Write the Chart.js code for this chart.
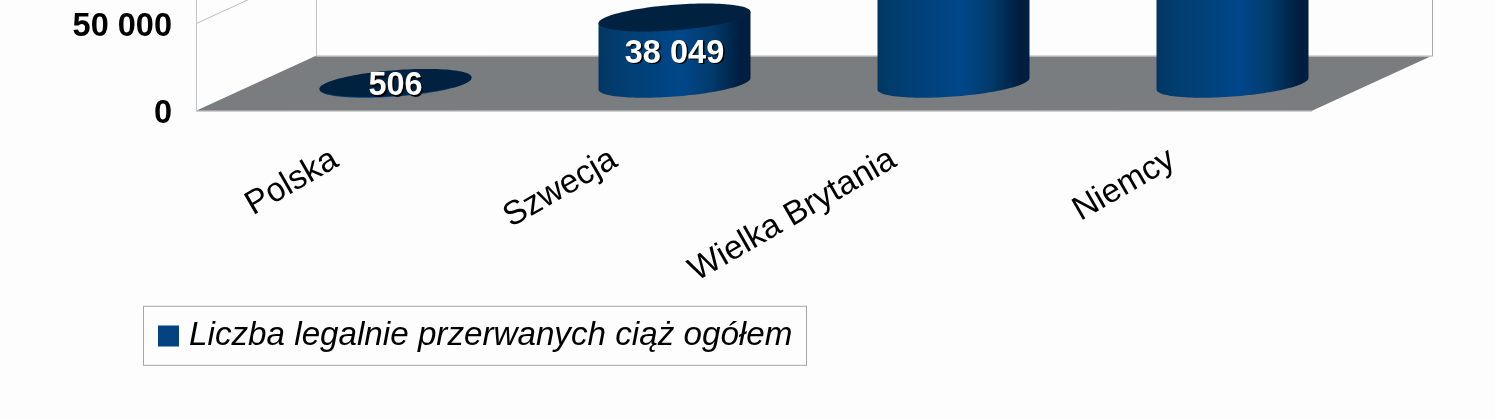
<!DOCTYPE html>
<html lang="pl">
<head>
<meta charset="utf-8">
<style>
html,body{margin:0;padding:0;background:#fdfdfd;overflow:hidden}
canvas{display:block}
</style>
<script src="https://cdn.jsdelivr.net/npm/chart.js@4"></script>
</head>
<body>
<canvas id="c" width="1495" height="419" style="width:1495px;height:419px"></canvas>
<script>
const categories = ["Polska", "Szwecja", "Wielka Brytania", "Niemcy"];
const seriesLabel = "Liczba legalnie przerwanych ciąż ogółem";
const seriesValues = [506, 38049, 193700, 124000];
const yTicks = [0, 50000];

const FONT = '"Liberation Sans", Arial, sans-serif';
const DEPTH_X = 120, DEPTH_Y = 55;
const fmt = v => String(v).replace(/\B(?=(\d{3})+(?!\d))/g, " ");

const cylinder3d = {
  id: "cylinder3d",
  afterLayout(chart) {
    chart.scales.y.left = 0;
  },
  beforeDatasetsDraw(chart) {
    const {ctx, chartArea: a, scales: {y}} = chart;
    const L = a.left, R = a.right, B = y.getPixelForValue(0);
    ctx.save();
    ctx.fillStyle = "#7a7d80";
    ctx.beginPath();
    ctx.moveTo(L, B);
    ctx.lineTo(L + DEPTH_X, B - DEPTH_Y);
    ctx.lineTo(R + DEPTH_X, B - DEPTH_Y);
    ctx.lineTo(R, B);
    ctx.closePath();
    ctx.fill();
    ctx.lineWidth = 1;
    ctx.strokeStyle = "#c4c4c4";
    ctx.beginPath();
    ctx.moveTo(L + .5, 0); ctx.lineTo(L + .5, B + .5);
    ctx.lineTo(R, B + .5);
    ctx.moveTo(L + DEPTH_X + .5, 0); ctx.lineTo(L + DEPTH_X + .5, B - DEPTH_Y + .5);
    ctx.lineTo(R + DEPTH_X, B - DEPTH_Y + .5);
    ctx.stroke();
    ctx.strokeStyle = "#a9a9ad";
    ctx.beginPath();
    ctx.moveTo(R + DEPTH_X + .5, 0); ctx.lineTo(R + DEPTH_X + .5, B - DEPTH_Y + .5);
    ctx.stroke();
    ctx.strokeStyle = "#bdbdbd";
    yTicks.forEach(t => {
      if (!t) return;
      const py = y.getPixelForValue(t);
      ctx.beginPath();
      ctx.moveTo(L, py);
      ctx.lineTo(L + DEPTH_X, py - DEPTH_Y);
      ctx.stroke();
    });
    ctx.restore();
  },
  beforeDatasetDraw(chart, args) {
    const {ctx} = chart;
    const meta = args.meta;
    const shiftX = DEPTH_X / 2, shiftY = 27;
    meta.data.forEach((bar, i) => {
      const hw = bar.width / 2;
      const dx = hw * 0.408, dy = hw * 0.184, ax = Math.sqrt(hw * hw - dx * dx);
      const t0 = Math.atan2(dx, ax);
      const cx = bar.x + shiftX, topY = bar.y - shiftY, baseY = bar.base - shiftY;
      const pt = (cy, t) => [cx + ax * Math.cos(t) + dx * Math.sin(t), cy - dy * Math.sin(t)];
      const g = ctx.createLinearGradient(cx - hw, 0, cx + hw, 0);
      g.addColorStop(0, "#023660");
      g.addColorStop(0.08, "#023c6c");
      g.addColorStop(0.55, "#00478a");
      g.addColorStop(0.75, "#023a6a");
      g.addColorStop(0.93, "#001f40");
      g.addColorStop(1, "#001f40");
      ctx.save();
      ctx.fillStyle = g;
      ctx.beginPath();
      for (let k = 0; k <= 60; k++) {
        const p = pt(baseY, t0 - Math.PI * k / 60);
        k ? ctx.lineTo(p[0], p[1]) : ctx.moveTo(p[0], p[1]);
      }
      const tl = pt(topY, t0 - Math.PI), tr = pt(topY, t0);
      ctx.lineTo(tl[0], tl[1]);
      ctx.lineTo(tr[0], tr[1]);
      ctx.closePath();
      ctx.fill();
      ctx.fillStyle = "#00213f";
      ctx.beginPath();
      for (let k = 0; k <= 120; k++) {
        const p = pt(topY, 2 * Math.PI * k / 120);
        k ? ctx.lineTo(p[0], p[1]) : ctx.moveTo(p[0], p[1]);
      }
      ctx.closePath();
      ctx.fill();
      const text = fmt(seriesValues[i]);
      const ly = (topY + baseY) / 2 + 3;
      ctx.font = "bold 32.5px " + FONT;
      ctx.textAlign = "center";
      ctx.textBaseline = "middle";
      ctx.fillStyle = "#000";
      ctx.fillText(text, cx + 1.5, ly + 1.5);
      ctx.fillStyle = "#fff";
      ctx.fillText(text, cx, ly);
      ctx.restore();
    });
    return false;
  },
  afterDraw(chart) {
    const {ctx, legend} = chart;
    const left = legend.left + .5, top = legend.top + 8.5;
    const width = 663, height = 59;
    ctx.save();
    ctx.strokeStyle = "#a6a6a6";
    ctx.lineWidth = 1;
    ctx.strokeRect(left, top, width, height);
    ctx.restore();
  }
};

new Chart(document.getElementById("c"), {
  type: "bar",
  plugins: [cylinder3d],
  data: {
    labels: categories,
    datasets: [{
      label: seriesLabel,
      data: seriesValues,
      backgroundColor: "#03437f",
      barPercentage: 152 / 279,
      categoryPercentage: 1
    }]
  },
  options: {
    responsive: false,
    animation: false,
    devicePixelRatio: 1,
    layout: {padding: {left: 143, right: 183, top: 0, bottom: 56.5}},
    plugins: {
      tooltip: {enabled: false},
      legend: {
        position: "bottom",
        align: "start",
        labels: {
          usePointStyle: true,
          pointStyle: "rect",
          boxWidth: 8,
          boxHeight: 21,
          padding: 21.5,
          color: "#000",
          font: {family: FONT, size: 33.2, style: "italic"}
        }
      }
    },
    scales: {
      x: {
        grid: {display: false, drawTicks: false},
        border: {display: false},
        afterFit(s) { s.height = 187; s.paddingLeft = 0; s.paddingRight = 0; },
        ticks: {
          autoSkip: false,
          minRotation: 30,
          maxRotation: 30,
          padding: 29,
          color: "#000",
          font: {family: FONT, size: 33.5}
        }
      },
      y: {
        min: 0,
        max: 63574,
        grid: {display: false, drawTicks: false},
        border: {display: false},
        afterFit(s) { s.width = 53; s.paddingTop = 0; s.paddingBottom = 0; },
        afterBuildTicks(s) { s.ticks = yTicks.map(v => ({value: v})); },
        ticks: {
          padding: 24,
          labelOffset: 3.5,
          color: "#000",
          font: {family: FONT, size: 32.5, weight: "bold"},
          callback: v => fmt(v)
        }
      }
    }
  }
});
</script>
</body>
</html>
